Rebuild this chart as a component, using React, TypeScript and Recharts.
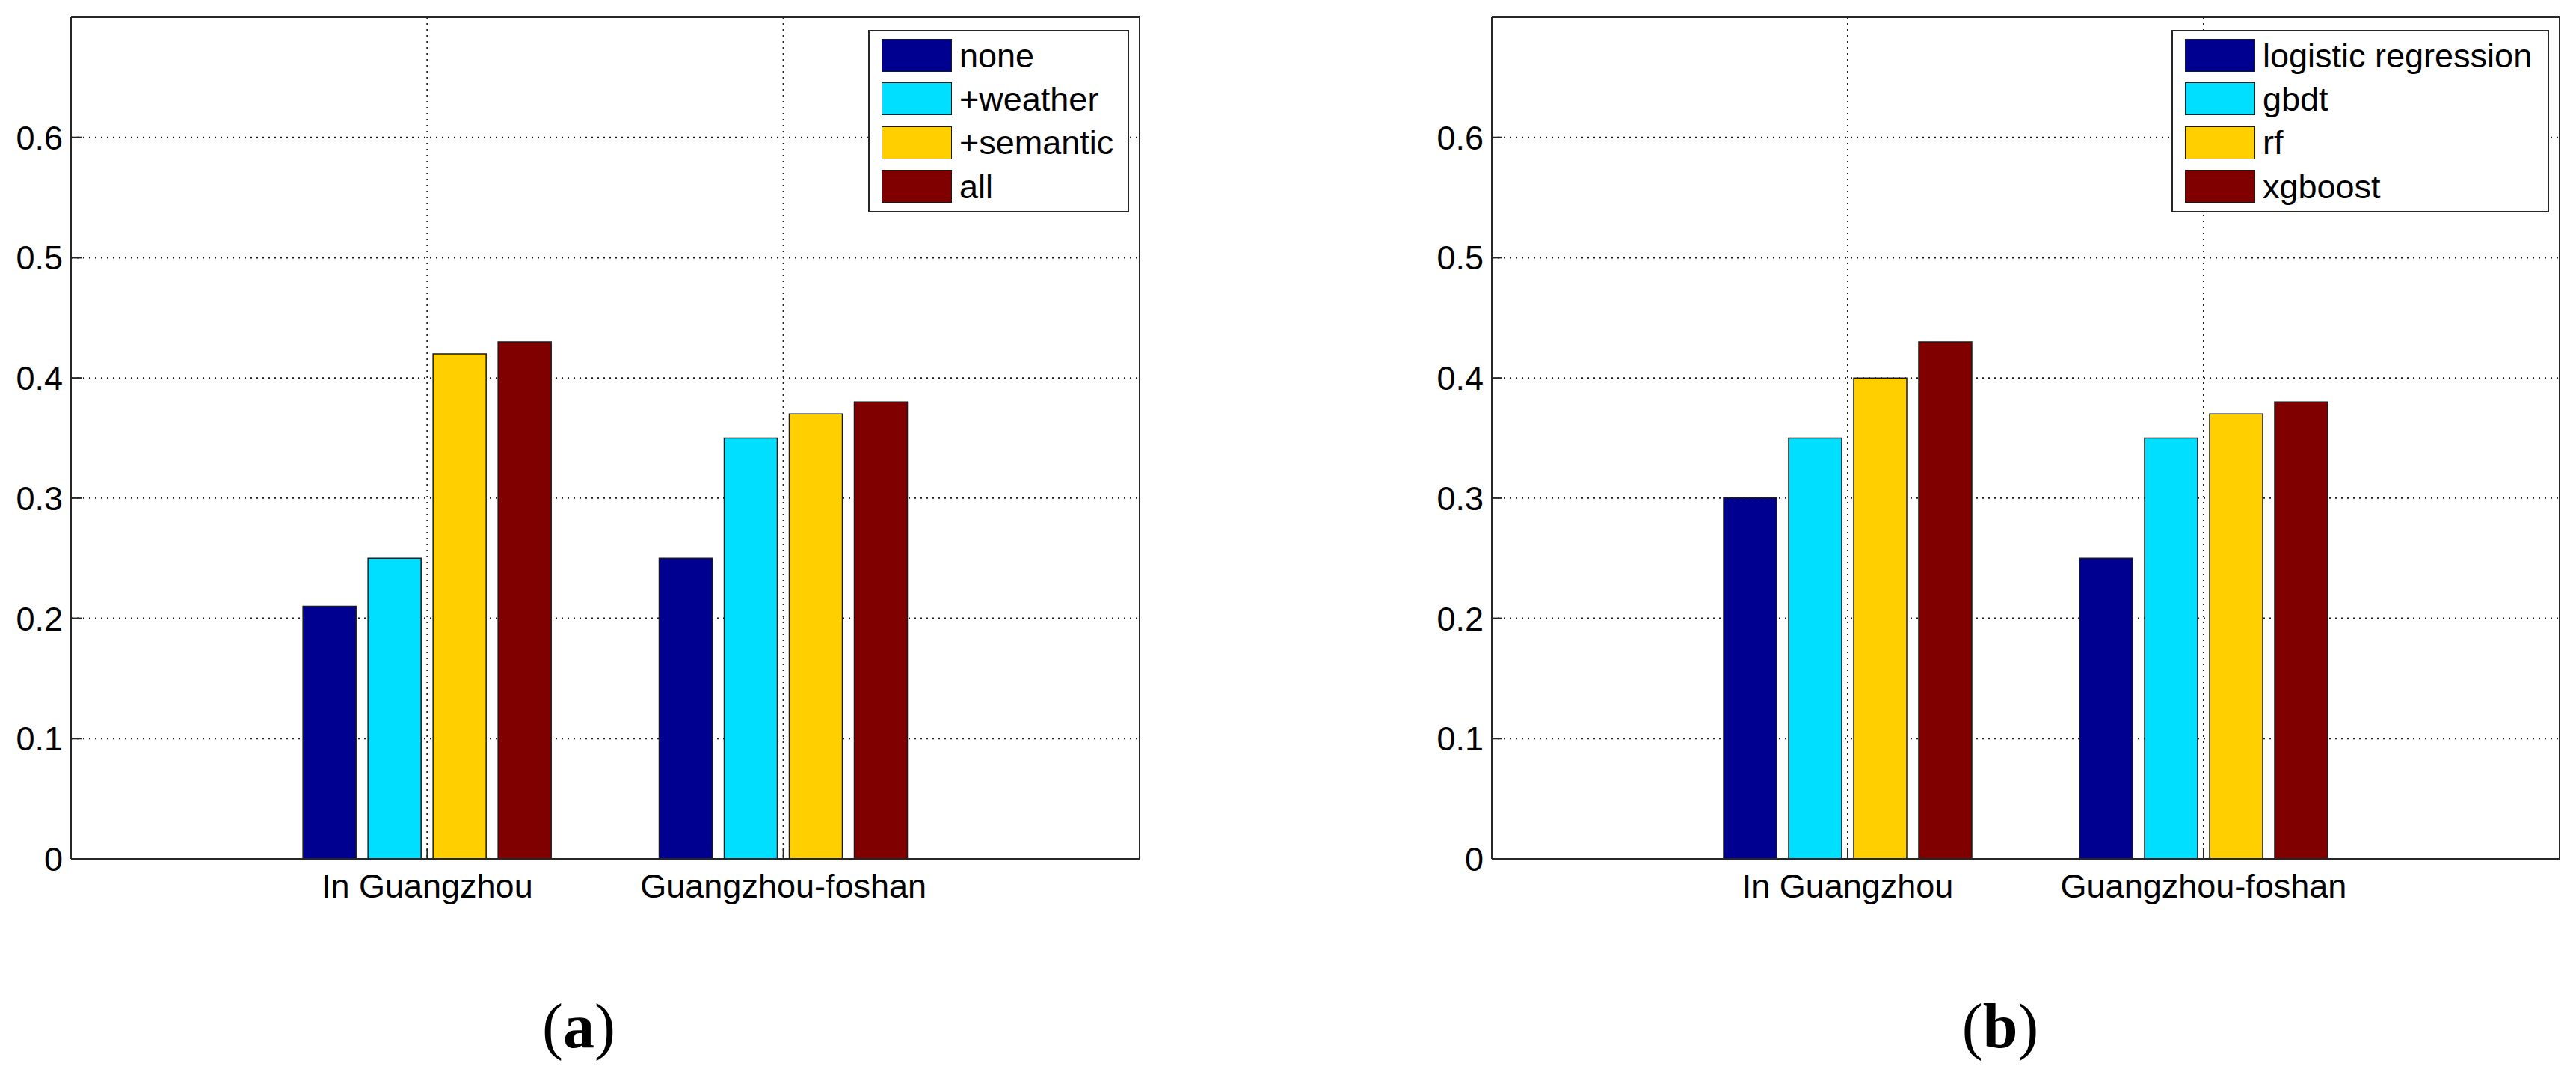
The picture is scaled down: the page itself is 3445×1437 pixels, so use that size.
import React from 'react';
import { BarChart, Bar, XAxis, YAxis, CartesianGrid, Legend } from 'recharts';

// ---- data ----
const categories = ['In Guangzhou', 'Guangzhou-foshan'];
const yTicks = [0, 0.1, 0.2, 0.3, 0.4, 0.5, 0.6];
const yMax = 0.7;

const seriesNamesA = ['none', '+weather', '+semantic', 'all'];
const noneValues = [0.21, 0.25];
const weatherValues = [0.25, 0.35];
const semanticValues = [0.42, 0.37];
const allValues = [0.43, 0.38];

const seriesNamesB = ['logistic regression', 'gbdt', 'rf', 'xgboost'];
const lrValues = [0.3, 0.25];
const gbdtValues = [0.35, 0.35];
const rfValues = [0.4, 0.37];
const xgbValues = [0.43, 0.38];

const seriesColors = ['#000090', '#00DFFF', '#FFCF00', '#800000'];
const captions = ['a', 'b'];

const buildRows = (series: number[][]) =>
  categories.map((name, i) => {
    const row: Record<string, any> = { name };
    series.forEach((s, k) => {
      row['s' + k] = s[i];
    });
    return row;
  });

const dataA = buildRows([noneValues, weatherValues, semanticValues, allValues]);
const dataB = buildRows([lrValues, gbdtValues, rfValues, xgbValues]);

// ---- styling ----
const SANS = '"Liberation Sans", Arial, Helvetica, sans-serif';
const SERIF = '"Liberation Serif", "Times New Roman", serif';
const AXIS = '#262626';
const CHART_W = 1545;
const CHART_H = 1300;
const PLOT_LEFT = 95;
const PLOT_TOP = 23;
const PLOT_BOTTOM = 1148;
const Y_AXIS_W = 80;
const X_AXIS_H = 60;

type LegendProps = { names: string[]; width: number };

const LegendBox = ({ names, width }: LegendProps) => (
  <div
    style={{
      width,
      height: 244,
      boxSizing: 'border-box',
      border: `2px solid ${AXIS}`,
      background: '#fff',
      position: 'relative',
    }}
  >
    {names.map((n, i) => (
      <div
        key={n}
        style={{
          position: 'absolute',
          left: 16,
          top: 10 + i * 58.4,
          height: 44,
          display: 'flex',
          alignItems: 'center',
          whiteSpace: 'nowrap',
        }}
      >
        <div
          style={{
            width: 94,
            height: 44,
            background: seriesColors[i],
            border: '1.5px solid #1a1a1a',
            boxSizing: 'border-box',
          }}
        />
        <span
          style={{
            marginLeft: 10,
            fontSize: 45,
            fontFamily: SANS,
            color: '#000',
            lineHeight: 1,
          }}
        >
          {n}
        </span>
      </div>
    ))}
  </div>
);

type PanelProps = {
  data: Record<string, any>[];
  names: string[];
  left: number;
  plotRight: number;
  legendLeft: number;
  legendWidth: number;
};

const Panel = ({ data, names, left, plotRight, legendLeft, legendWidth }: PanelProps) => {
  const plotW = plotRight - PLOT_LEFT;
  const pad = plotW / 6;
  return (
    <div style={{ position: 'absolute', left, top: 0, width: CHART_W, height: CHART_H }}>
      <BarChart
        width={CHART_W}
        height={CHART_H}
        data={data}
        margin={{
          top: PLOT_TOP - 1,
          left: PLOT_LEFT - Y_AXIS_W,
          right: CHART_W - plotRight - 1,
          bottom: CHART_H - PLOT_BOTTOM - X_AXIS_H,
        }}
        barSize={71}
        barGap={16}
      >
        <CartesianGrid
          xAxisId="bottom"
          yAxisId="left"
          stroke="#1a1a1a"
          strokeWidth={2}
          strokeDasharray="2 6"
        />
        <XAxis
          dataKey="name"
          xAxisId="bottom"
          orientation="bottom"
          height={X_AXIS_H}
          padding={{ left: pad, right: pad }}
          axisLine={{ stroke: AXIS, strokeWidth: 2 }}
          tickLine={{ stroke: AXIS, strokeWidth: 2 }}
          tickSize={-14}
          tickMargin={34}
          interval={0}
          tick={{ fontSize: 45, fill: '#000', fontFamily: SANS }}
        />
        <XAxis
          dataKey="name"
          xAxisId="top"
          orientation="top"
          height={1}
          padding={{ left: pad, right: pad }}
          axisLine={{ stroke: AXIS, strokeWidth: 2 }}
          tickLine={{ stroke: AXIS, strokeWidth: 2 }}
          tickSize={-14}
          interval={0}
          tick={false}
        />
        <YAxis
          yAxisId="left"
          orientation="left"
          width={Y_AXIS_W}
          domain={[0, yMax]}
          ticks={yTicks}
          allowDataOverflow
          axisLine={{ stroke: AXIS, strokeWidth: 2 }}
          tickLine={{ stroke: AXIS, strokeWidth: 2 }}
          tickSize={-14}
          tickMargin={25}
          interval={0}
          tickFormatter={(v: number) => String(v)}
          tick={{ fontSize: 45, fill: '#000', fontFamily: SANS }}
        />
        <YAxis
          yAxisId="right"
          orientation="right"
          width={1}
          domain={[0, yMax]}
          ticks={yTicks}
          allowDataOverflow
          axisLine={{ stroke: AXIS, strokeWidth: 2 }}
          tickLine={{ stroke: AXIS, strokeWidth: 2 }}
          tickSize={-14}
          interval={0}
          tick={false}
        />
        {names.map((n, k) => (
          <Bar
            key={n}
            name={n}
            dataKey={'s' + k}
            xAxisId="bottom"
            yAxisId="left"
            fill={seriesColors[k]}
            stroke="#1a1a1a"
            strokeWidth={1.5}
            isAnimationActive={false}
          />
        ))}
        <Legend
          layout="vertical"
          align="center"
          verticalAlign="middle"
          wrapperStyle={{ left: legendLeft, top: 40, width: legendWidth, height: 244 }}
          content={() => <LegendBox names={names} width={legendWidth} />}
        />
      </BarChart>
    </div>
  );
};

export default function App() {
  return (
    <div
      style={{
        position: 'absolute',
        left: 0,
        top: 0,
        width: 3445,
        height: 1437,
        background: '#fff',
        overflow: 'hidden',
      }}
    >
      <Panel data={dataA} names={seriesNamesA} left={0} plotRight={1524} legendLeft={1161} legendWidth={349} />
      <Panel data={dataB} names={seriesNamesB} left={1900} plotRight={1523} legendLeft={1004} legendWidth={505} />
      <svg
        width={3445}
        height={1437}
        style={{ position: 'absolute', left: 0, top: 0, pointerEvents: 'none' }}
      >
        {[774, 2675].map((cx, i) => (
          <text key={i} x={cx} y={1400} textAnchor="middle" fontFamily={SERIF} fontSize={84} fill="#000">
            <tspan>(</tspan>
            <tspan fontWeight="bold">{captions[i]}</tspan>
            <tspan>)</tspan>
          </text>
        ))}
      </svg>
    </div>
  );
}
